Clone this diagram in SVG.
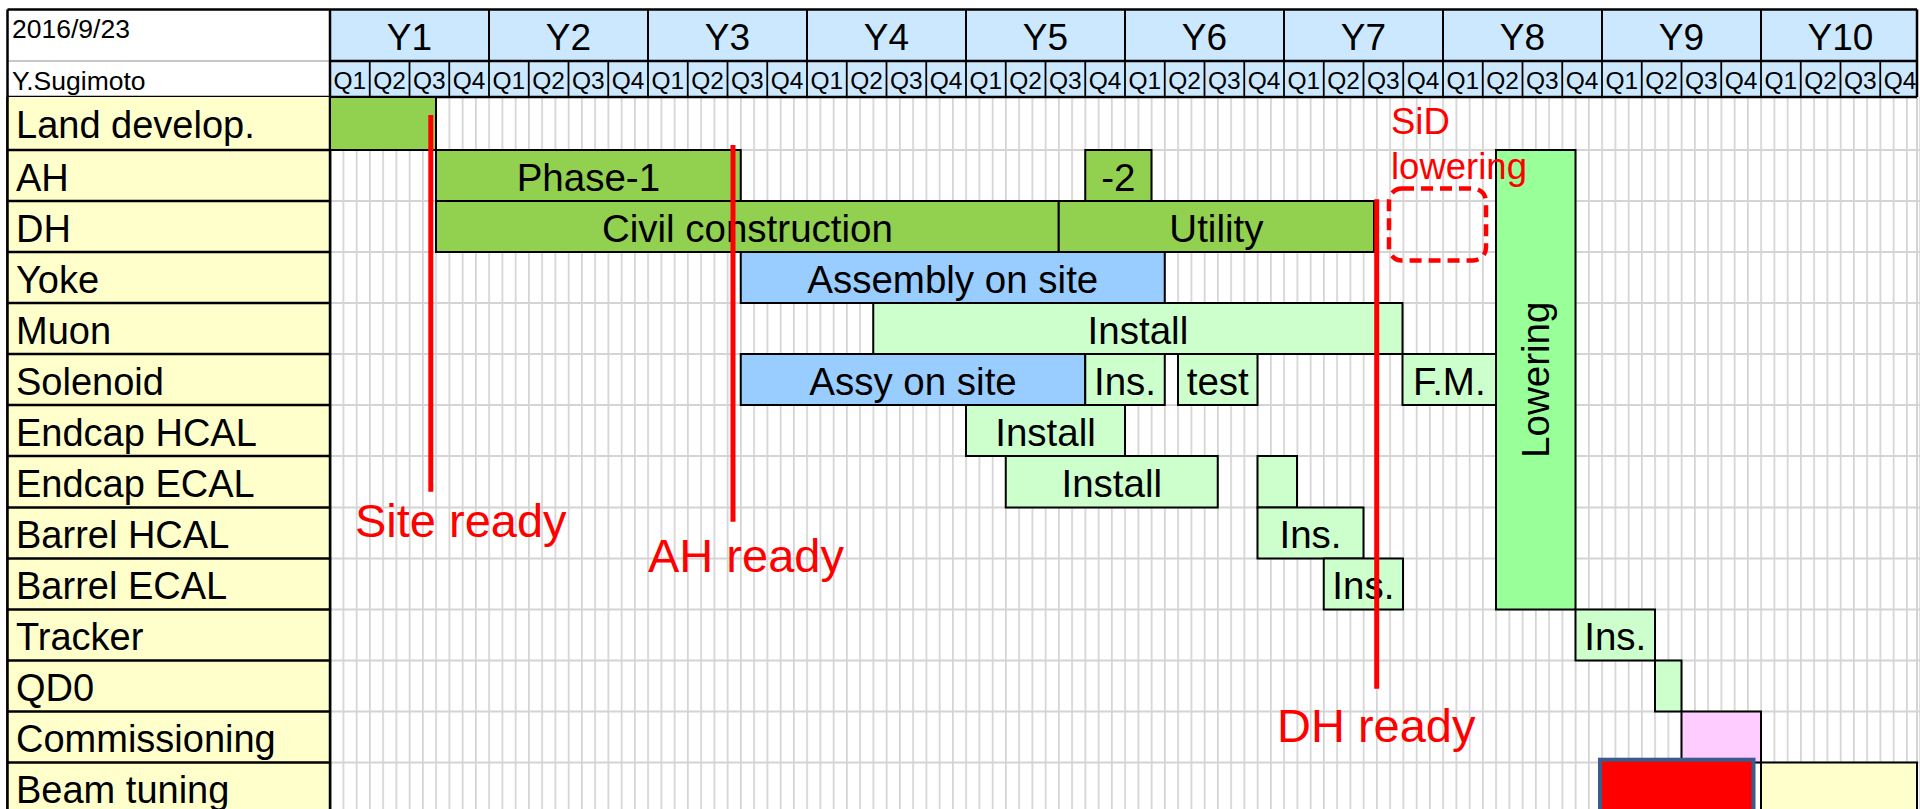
<svg xmlns="http://www.w3.org/2000/svg" width="1920" height="809" viewBox="0 0 1920 809">
<style>
text{font-family:"Liberation Sans",Arial,sans-serif;fill:#000}
.lbl{font-size:38px}
.bt{font-size:38.5px;text-anchor:middle}
.yr{font-size:37px;text-anchor:middle}
.qt{font-size:24.5px;text-anchor:middle}
.sm{font-size:26.5px}
.red{fill:#FF0000;font-size:47px}
.sid{fill:#FF0000;font-size:36.5px}
.bar{stroke:#000;stroke-width:2}
.g1{fill:#92D050}.bl{fill:#99CCFF}.lg{fill:#CCFFCC}.lw{fill:#99FF99}.pk{fill:#FFCCFF}.yl{fill:#FFFFCC}
.hd{fill:#CCE8FF}
.ms{stroke:#FF0000;stroke-width:5;fill:none}
</style>
<defs>
<pattern id="months" patternUnits="userSpaceOnUse" x="329.25" y="0" width="13.25" height="809">
<rect x="0" y="0" width="1.7" height="809" fill="#D4D4D4"/>
</pattern>
</defs>
<rect x="0" y="0" width="1920" height="809" fill="#FFFFFF"/>
<g id="grid">
<rect x="330" y="97" width="1590" height="712" fill="url(#months)"/>
<path d="M330 150H1920M330 201H1920M330 252H1920M330 303H1920M330 354H1920M330 405H1920M330 456H1920M330 507.5H1920M330 558.5H1920M330 609.5H1920M330 660.5H1920M330 711.5H1920M330 762.5H1920" stroke="#D4D4D4" stroke-width="2" fill="none"/>
<line x1="1917" y1="97" x2="1917" y2="809" stroke="#D4D4D4" stroke-width="2"/>
</g>
<g id="header">
<rect x="7.5" y="9.5" width="322.5" height="87.5" fill="#FFFFFF"/>
<line x1="7.5" y1="61" x2="330" y2="61" stroke="#C8C8C8" stroke-width="2"/>
<rect class="hd" x="330" y="9.5" width="1587" height="87.5"/>
<path d="M7.5 9.5H1917M330 61H1917M7.5 97H1917M7.5 9.5V809M330 9.5V809M1917 9.5V97" stroke="#000" stroke-width="2.5" fill="none"/>
<path d="M489 9.5V61M648 9.5V61M807 9.5V61M966 9.5V61M1125 9.5V61M1284 9.5V61M1443 9.5V61M1602 9.5V61M1761 9.5V61" stroke="#000" stroke-width="2" fill="none"/>
<path d="M369.75 61V97M409.5 61V97M449.25 61V97M489 61V97M528.75 61V97M568.5 61V97M608.25 61V97M648 61V97M687.75 61V97M727.5 61V97M767.25 61V97M807 61V97M846.75 61V97M886.5 61V97M926.25 61V97M966 61V97M1005.75 61V97M1045.5 61V97M1085.25 61V97M1125 61V97M1164.75 61V97M1204.5 61V97M1244.25 61V97M1284 61V97M1323.75 61V97M1363.5 61V97M1403.25 61V97M1443 61V97M1482.75 61V97M1522.5 61V97M1562.25 61V97M1602 61V97M1641.75 61V97M1681.5 61V97M1721.25 61V97M1761 61V97M1800.75 61V97M1840.5 61V97M1880.25 61V97" stroke="#000" stroke-width="1.8" fill="none"/>
<text class="sm" x="12" y="38">2016/9/23</text>
<text class="sm" x="12" y="90">Y.Sugimoto</text>
<text class="yr" x="409.5" y="50">Y1</text>
<text class="yr" x="568.5" y="50">Y2</text>
<text class="yr" x="727.5" y="50">Y3</text>
<text class="yr" x="886.5" y="50">Y4</text>
<text class="yr" x="1045.5" y="50">Y5</text>
<text class="yr" x="1204.5" y="50">Y6</text>
<text class="yr" x="1363.5" y="50">Y7</text>
<text class="yr" x="1522.5" y="50">Y8</text>
<text class="yr" x="1681.5" y="50">Y9</text>
<text class="yr" x="1840.5" y="50">Y10</text>
<text class="qt" x="349.9" y="89">Q1</text><text class="qt" x="389.6" y="89">Q2</text><text class="qt" x="429.4" y="89">Q3</text><text class="qt" x="469.1" y="89">Q4</text>
<text class="qt" x="508.9" y="89">Q1</text><text class="qt" x="548.6" y="89">Q2</text><text class="qt" x="588.4" y="89">Q3</text><text class="qt" x="628.1" y="89">Q4</text>
<text class="qt" x="667.9" y="89">Q1</text><text class="qt" x="707.6" y="89">Q2</text><text class="qt" x="747.4" y="89">Q3</text><text class="qt" x="787.1" y="89">Q4</text>
<text class="qt" x="826.9" y="89">Q1</text><text class="qt" x="866.6" y="89">Q2</text><text class="qt" x="906.4" y="89">Q3</text><text class="qt" x="946.1" y="89">Q4</text>
<text class="qt" x="985.9" y="89">Q1</text><text class="qt" x="1025.6" y="89">Q2</text><text class="qt" x="1065.4" y="89">Q3</text><text class="qt" x="1105.1" y="89">Q4</text>
<text class="qt" x="1144.9" y="89">Q1</text><text class="qt" x="1184.6" y="89">Q2</text><text class="qt" x="1224.4" y="89">Q3</text><text class="qt" x="1264.1" y="89">Q4</text>
<text class="qt" x="1303.9" y="89">Q1</text><text class="qt" x="1343.6" y="89">Q2</text><text class="qt" x="1383.4" y="89">Q3</text><text class="qt" x="1423.1" y="89">Q4</text>
<text class="qt" x="1462.9" y="89">Q1</text><text class="qt" x="1502.6" y="89">Q2</text><text class="qt" x="1542.4" y="89">Q3</text><text class="qt" x="1582.1" y="89">Q4</text>
<text class="qt" x="1621.9" y="89">Q1</text><text class="qt" x="1661.6" y="89">Q2</text><text class="qt" x="1701.4" y="89">Q3</text><text class="qt" x="1741.1" y="89">Q4</text>
<text class="qt" x="1780.9" y="89">Q1</text><text class="qt" x="1820.6" y="89">Q2</text><text class="qt" x="1860.4" y="89">Q3</text><text class="qt" x="1900.1" y="89">Q4</text>
</g>
<g id="labels">
<rect class="yl" x="7.5" y="97" width="322.5" height="712"/>
<path d="M7.5 150H330M7.5 201H330M7.5 252H330M7.5 303H330M7.5 354H330M7.5 405H330M7.5 456H330M7.5 507.5H330M7.5 558.5H330M7.5 609.5H330M7.5 660.5H330M7.5 711.5H330M7.5 762.5H330M7.5 97V809M330 97V809" stroke="#000" stroke-width="2.5" fill="none"/>
<text class="lbl" x="16" y="138">Land develop.</text>
<text class="lbl" x="16" y="191">AH</text>
<text class="lbl" x="16" y="242">DH</text>
<text class="lbl" x="16" y="293">Yoke</text>
<text class="lbl" x="16" y="344">Muon</text>
<text class="lbl" x="16" y="395">Solenoid</text>
<text class="lbl" x="16" y="446">Endcap HCAL</text>
<text class="lbl" x="16" y="497">Endcap ECAL</text>
<text class="lbl" x="16" y="548">Barrel HCAL</text>
<text class="lbl" x="16" y="599">Barrel ECAL</text>
<text class="lbl" x="16" y="650">Tracker</text>
<text class="lbl" x="16" y="701">QD0</text>
<text class="lbl" x="16" y="752">Commissioning</text>
<text class="lbl" x="16" y="803">Beam tuning</text>
</g>
<g id="land-develop"><rect class="bar g1" x="330" y="97" width="106" height="53"/></g>
<g id="ah-phase1"><rect class="bar g1" x="436" y="150" width="304.75" height="51"/><text class="bt" x="588.4" y="191">Phase-1</text></g>
<g id="ah-phase2"><rect class="bar g1" x="1085.25" y="150" width="66.25" height="51"/><text class="bt" x="1118.4" y="191">-2</text></g>
<g id="dh-civil"><rect class="bar g1" x="436" y="201" width="622.75" height="51"/><text class="bt" x="747.4" y="242">Civil construction</text></g>
<g id="dh-utility"><rect class="bar g1" x="1058.75" y="201" width="315.25" height="51"/><text class="bt" x="1216.4" y="242">Utility</text></g>
<g id="yoke-assembly"><rect class="bar bl" x="740.75" y="252" width="424" height="51"/><text class="bt" x="952.75" y="293">Assembly on site</text></g>
<g id="muon-install"><rect class="bar lg" x="873.25" y="303" width="529.25" height="51"/><text class="bt" x="1137.9" y="344">Install</text></g>
<g id="solenoid-assy"><rect class="bar bl" x="740.75" y="354" width="344.5" height="51"/><text class="bt" x="913" y="395">Assy on site</text></g>
<g id="solenoid-ins"><rect class="bar lg" x="1085.25" y="354" width="79.5" height="51"/><text class="bt" x="1125" y="395">Ins.</text></g>
<g id="solenoid-test"><rect class="bar lg" x="1178" y="354" width="79.5" height="51"/><text class="bt" x="1217.75" y="395">test</text></g>
<g id="solenoid-fm"><rect class="bar lg" x="1402.5" y="354" width="93.5" height="51"/><text class="bt" x="1449.25" y="395">F.M.</text></g>
<g id="endcap-hcal"><rect class="bar lg" x="966" y="405" width="159" height="51"/><text class="bt" x="1045.5" y="446">Install</text></g>
<g id="endcap-ecal"><rect class="bar lg" x="1005.75" y="456" width="212" height="51.5"/><text class="bt" x="1111.75" y="497">Install</text></g>
<g id="endcap-ecal-2"><rect class="bar lg" x="1257.5" y="456" width="39.5" height="51.5"/></g>
<g id="barrel-hcal"><rect class="bar lg" x="1257.5" y="507.5" width="106" height="51"/><text class="bt" x="1310.5" y="548">Ins.</text></g>
<g id="barrel-ecal"><rect class="bar lg" x="1323.75" y="558.5" width="79.25" height="51"/><text class="bt" x="1363.4" y="599">Ins.</text></g>
<g id="lowering"><rect class="bar lw" x="1496" y="150" width="79.5" height="459.5"/><text class="bt" transform="translate(1549 379.75) rotate(-90)" x="0" y="0">Lowering</text></g>
<g id="tracker"><rect class="bar lg" x="1575.5" y="609.5" width="79.5" height="51"/><text class="bt" x="1615.25" y="650">Ins.</text></g>
<g id="qd0"><rect class="bar lg" x="1655" y="660.5" width="26.5" height="51"/></g>
<g id="commissioning"><rect class="bar pk" x="1681.5" y="711.5" width="79.5" height="51"/></g>
<g id="beam-tuning-2"><rect class="bar yl" x="1761" y="762.5" width="156" height="60"/></g>
<g id="beam-tuning"><rect x="1600" y="759.7" width="153.5" height="60" fill="#FF0000" stroke="#3B5B8C" stroke-width="4"/></g>
<g id="sid-lowering"><rect x="1389" y="188.5" width="97" height="72" rx="13" ry="13" fill="none" stroke="#FF0000" stroke-width="4.5" stroke-dasharray="12 7"/><text class="sid" x="1391" y="134">SiD</text><text class="sid" x="1391" y="179">lowering</text></g>
<g id="connectors">
<line class="ms" x1="430.8" y1="115" x2="430.8" y2="491.7"/>
<line class="ms" x1="733" y1="145" x2="733" y2="521.7"/>
<line class="ms" x1="1376.7" y1="199.3" x2="1376.7" y2="688.7"/>
</g>
<g id="site-ready"><text class="red" x="355" y="537">Site ready</text></g>
<g id="ah-ready"><text class="red" x="648" y="572">AH ready</text></g>
<g id="dh-ready"><text class="red" x="1277" y="742">DH ready</text></g>
</svg>
